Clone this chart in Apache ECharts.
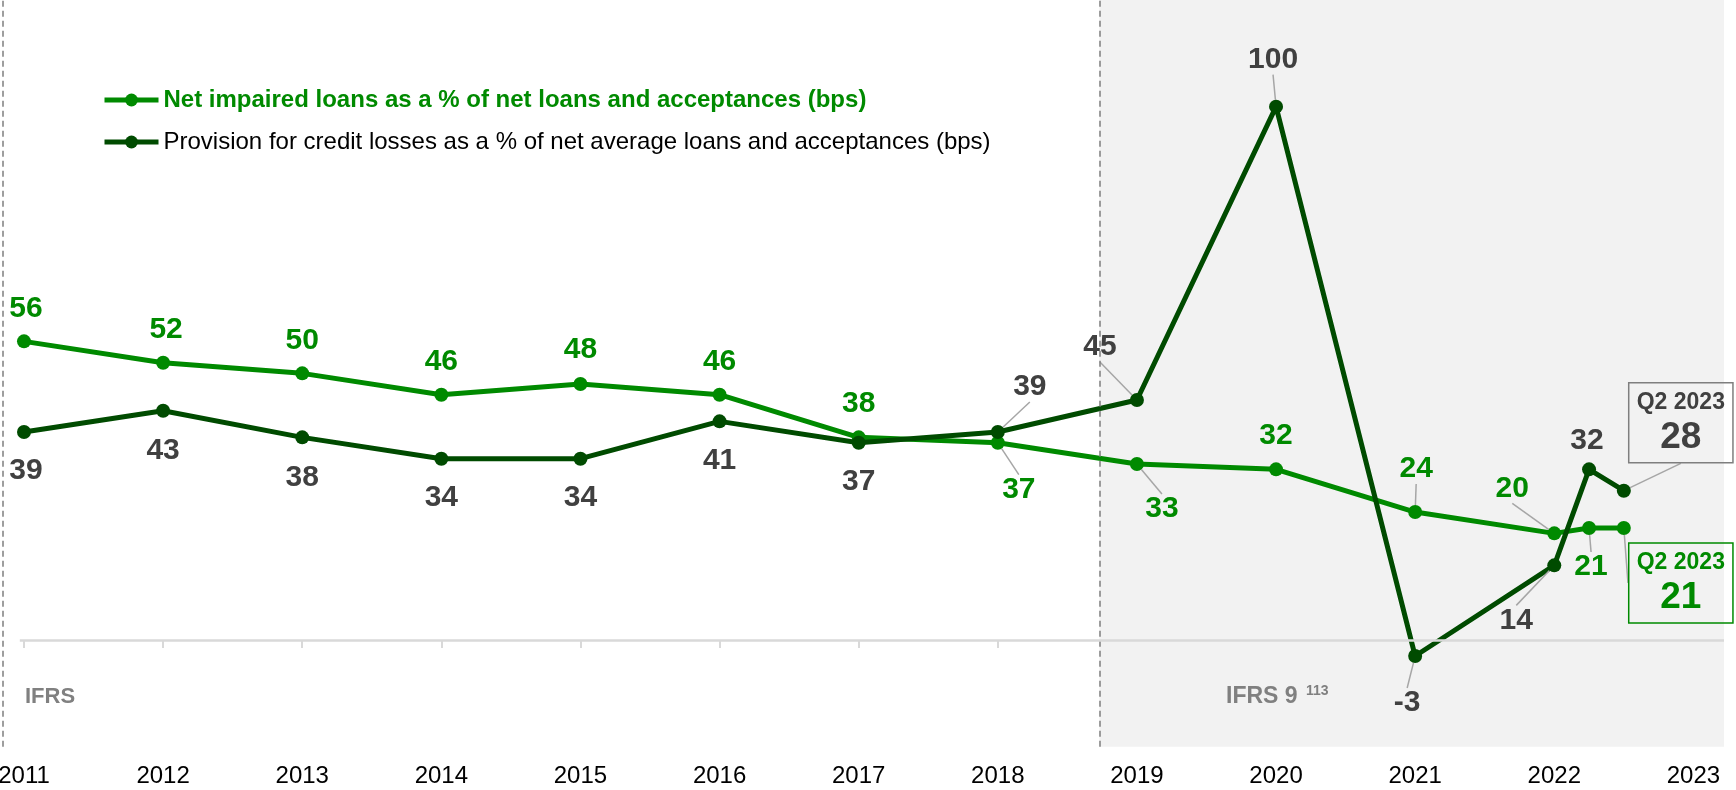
<!DOCTYPE html>
<html><head><meta charset="utf-8">
<script src="https://cdn.jsdelivr.net/npm/echarts@6/dist/echarts.min.js"></script>
<style>html,body{margin:0;padding:0;background:#fff}#c{width:1736px;height:790px}</style>
</head><body><div id="c"></div>
<script>
// ---- data ----
const periods = [2011, 2012, 2013, 2014, 2015, 2016, 2017, 2018, 2019, 2020, 2021, 2022, 2022.25, 2022.5];
const yearTicks = [2011, 2012, 2013, 2014, 2015, 2016, 2017, 2018, 2019, 2020, 2021, 2022, 2023];
const netImpaired = [56, 52, 50, 46, 48, 46, 38, 37, 33, 32, 24, 20, 21, 21];
const provision = [39, 43, 38, 34, 34, 41, 37, 39, 45, 100, -3, 14, 32, 28];
const seriesNames = [
  'Net impaired loans as a % of net loans and acceptances (bps)',
  'Provision for credit losses as a % of net average loans and acceptances (bps)'
];
const latestTitle = 'Q2 2023';
const ifrsStart = 2010.85;   // start of IFRS period marker
const ifrs9Start = 2018.73;  // IFRS 9 adoption marker
const axisEnd = 2023.22;

// ---- styles / placement (not data) ----
const GREEN = '#008a00', DARK = '#004b00', LABEL_GRAY = '#404040', FONT = 'Liberation Sans, Arial, sans-serif';
const greenShift = [[2,-33],[3,-33],[0,-33],[0,-33],[0,-34],[0,-33],[0,-34],[21,47],[25,45],[0,-34],[1,-43],[-42,-45],[2,39],[57,55]];
const greenLeader = [0,0,0,0,0,0,0,1,1,0,1,1,1,1];
const darkShift = [[2,39],[0,40],[0,40],[0,39],[0,39],[0,39],[0,39],[32,-45],[-37,-53],[-3,-47],[-8,47],[-38,55],[-2,-29],[57,-68]];
const darkLeader = [0,0,0,0,0,0,0,1,1,1,1,1,0,1];
const xMin = 2011 - 24 / 139.12;

function boxLabel(color, border) {
  return {
    formatter: p => '{t|' + latestTitle + '}\n{v|' + p.value[1] + '}',
    borderColor: border, borderWidth: 1.5, padding: [6, 8, 4, 8],
    fontSize: 23, lineHeight: 28, fontWeight: 'bold', color: color,
    rich: {
      t: {fontSize: 23, fontWeight: 'bold', color: color, fontFamily: FONT, lineHeight: 28, align: 'center'},
      v: {fontSize: 37, fontWeight: 'bold', color: color, fontFamily: FONT, lineHeight: 42, align: 'center'}
    }
  };
}

function buildData(vals, leaders, box) {
  return periods.map((x, i) => {
    const item = {value: [x, vals[i]], labelLine: {show: !!leaders[i]}};
    if (i === periods.length - 1) item.label = box;
    return item;
  });
}

const chart = echarts.init(document.getElementById('c'), null, {renderer: 'canvas'});
chart.setOption({
  animation: false,
  backgroundColor: '#ffffff',
  textStyle: {fontFamily: FONT},
  grid: {left: 0, right: 12, top: 0, bottom: 43.3, containLabel: false, outerBoundsMode: 'none'},
  legend: {
    orient: 'vertical', left: 102, top: 88, padding: 0, itemWidth: 54, itemHeight: 16, itemGap: 18,
    lineStyle: {width: 5},
    data: [
      {name: seriesNames[0], textStyle: {color: GREEN, fontWeight: 'bold', fontSize: 24, fontFamily: FONT}},
      {name: seriesNames[1], textStyle: {color: '#000000', fontSize: 24, fontFamily: FONT}}
    ],
    selectedMode: false
  },
  xAxis: [
    {
      type: 'value', min: xMin, max: axisEnd,
      axisLine: {show: false, onZero: true},
      splitLine: {show: false},
      axisTick: {show: true, length: 8, customValues: yearTicks, lineStyle: {color: '#d9d9d9', width: 2}},
      axisLabel: {show: false}
    },
    {
      type: 'value', min: xMin, max: axisEnd, position: 'bottom',
      axisLine: {show: false, onZero: false},
      splitLine: {show: false},
      axisTick: {show: false},
      axisLabel: {customValues: yearTicks, formatter: v => String(Math.round(v)), margin: 18,
        fontSize: 24, color: '#000000', fontFamily: FONT}
    }
  ],
  yAxis: {type: 'value', min: -20, max: 120, show: false},
  series: [
    {
      type: 'line', name: 'bg', data: [], z: 1, silent: true,
      markArea: {silent: true, itemStyle: {color: '#f2f2f2'}, data: [[{xAxis: ifrs9Start}, {xAxis: axisEnd}]]},
      markLine: {
        silent: true, symbol: 'none', label: {show: false},
        data: [
          {xAxis: ifrsStart, lineStyle: {color: '#7f7f7f', width: 1.5, type: [6, 4]}},
          {xAxis: ifrs9Start, lineStyle: {color: '#7f7f7f', width: 1.5, type: [6, 4]}},
          [{coord: [2010.97, 0], lineStyle: {color: '#d9d9d9', width: 2.5, type: 'solid'}}, {coord: [axisEnd, 0]}]
        ]
      }
    },
    {
      type: 'line', name: seriesNames[0], z: 3,
      data: buildData(netImpaired, greenLeader, boxLabel(GREEN, GREEN)),
      symbol: 'circle', symbolSize: 14,
      lineStyle: {color: GREEN, width: 5}, itemStyle: {color: GREEN},
      label: {show: true, position: 'inside', formatter: p => p.value[1], fontSize: 30, fontWeight: 'bold', color: GREEN, fontFamily: FONT},
      labelLine: {show: false, lineStyle: {color: '#a6a6a6', width: 1.5}},
      labelLayout: p => ({dx: greenShift[p.dataIndex][0], dy: greenShift[p.dataIndex][1]})
    },
    {
      type: 'line', name: seriesNames[1], z: 4,
      data: buildData(provision, darkLeader, boxLabel(LABEL_GRAY, '#7f7f7f')),
      symbol: 'circle', symbolSize: 14,
      lineStyle: {color: DARK, width: 5}, itemStyle: {color: DARK},
      label: {show: true, position: 'inside', formatter: p => p.value[1], fontSize: 30, fontWeight: 'bold', color: LABEL_GRAY, fontFamily: FONT},
      labelLine: {show: false, lineStyle: {color: '#a6a6a6', width: 1.5}},
      labelLayout: p => ({dx: darkShift[p.dataIndex][0], dy: darkShift[p.dataIndex][1]})
    }
  ],
  graphic: [
    {type: 'text', left: 25, top: 686, z: 10, style: {text: 'IFRS', font: 'bold 22px ' + FONT, fill: '#808080'}},
    {type: 'text', left: 1226, top: 685, z: 10, style: {text: 'IFRS 9', font: 'bold 23px ' + FONT, fill: '#808080'}},
    {type: 'text', left: 1306, top: 684, z: 10, style: {text: '113', font: 'bold 14px ' + FONT, fill: '#808080'}}
  ]
});
</script></body></html>
